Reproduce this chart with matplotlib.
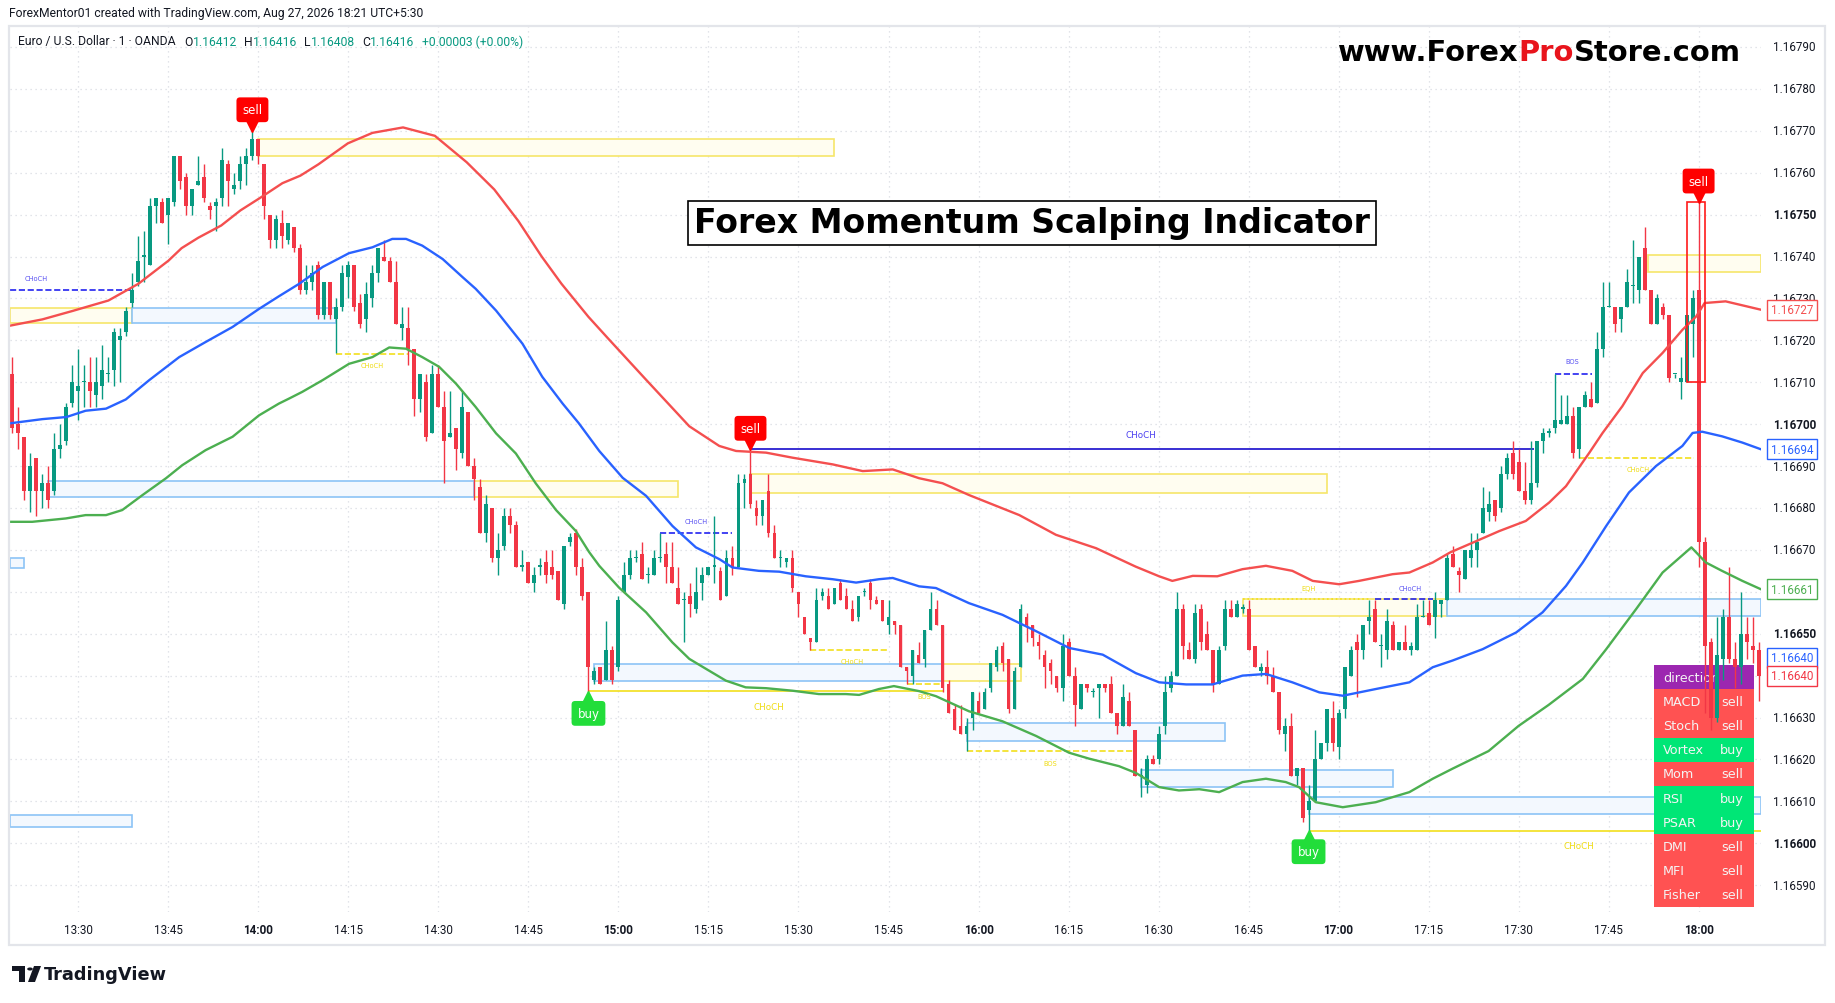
import numpy as np
import matplotlib
matplotlib.use("Agg")
import matplotlib.pyplot as plt
from matplotlib.patches import Rectangle, Polygon, Circle
from matplotlib.transforms import blended_transform_factory, offset_copy

# ── Data ─────────────────────────────────────────────────────────────────────
# EUR/USD, 1-minute candles from 13:19 to 18:10.
# Prices are in 0.00001 steps above 1.16000  (712 -> 1.16712)
BASE = 1.16
STEP = 1e-5
FIRST_BAR = "13:19"

opens = [
    712, 700, 697, 684, 692, 684, 686, 684, 694, 696,   # 13:19
    705, 708, 710, 710, 707, 709, 712, 713, 720, 722,   # 13:29
    729, 734, 740, 738, 752, 753, 750, 753, 764, 759,   # 13:39
    752, 757, 759, 752, 752, 754, 762, 756, 758, 762,   # 13:49
    764, 768, 762, 750, 744, 748, 744, 747, 742, 732,   # 13:59
    734, 738, 726, 734, 725, 728, 735, 738, 729, 725,   # 14:09
    730, 736, 740, 739, 734, 723, 723, 718, 706, 710,   # 14:19
    698, 712, 704, 697, 699, 693, 703, 690, 685, 674,   # 14:29
    680, 668, 671, 678, 676, 666, 667, 662, 666, 667,   # 14:39
    666, 665, 657, 672, 674, 666, 660, 639, 642, 639,   # 14:49
    646, 642, 660, 664, 668, 669, 664, 664, 668, 669,   # 14:59
    666, 661, 658, 659, 656, 662, 664, 666, 665, 659,   # 15:09
    668, 666, 686, 688, 680, 678, 684, 674, 668, 667,   # 15:19
    668, 660, 654, 649, 648, 659, 659, 657, 662, 659,   # 15:29
    656, 654, 660, 662, 658, 658, 652, 653, 652, 642,   # 15:39
    640, 645, 644, 651, 656, 652, 638, 632, 628, 626,   # 15:49
    630, 634, 632, 637, 642, 647, 644, 632, 642, 654,   # 15:59
    652, 648, 645, 643, 640, 637, 648, 640, 632, 638,   # 16:09
    636, 637, 638, 638, 631, 628, 634, 627, 616, 614,   # 16:19
    620, 620, 628, 637, 640, 656, 646, 644, 656, 650,   # 16:29
    646, 638, 647, 656, 654, 656, 656, 647, 641, 642,   # 16:39
    640, 636, 626, 628, 616, 618, 608, 610, 620, 624,   # 16:49
    630, 623, 632, 640, 648, 646, 653, 656, 647, 646,   # 16:59
    652, 646, 648, 646, 646, 654, 655, 654, 657, 658,   # 17:09
    669, 665, 663, 668, 670, 674, 679, 682, 680, 688,   # 17:19
    693, 691, 684, 682, 686, 696, 698, 699, 700, 700,   # 17:29
    702, 694, 704, 706, 705, 718, 728, 728, 725, 728,   # 17:39
    733, 732, 742, 732, 724, 728, 726, 712, 710, 710,   # 17:49
    724, 732, 672, 648, 630, 644, 654, 644, 642, 650,   # 17:59
    647, 646,                                           # 18:09
]
highs = [
    716, 704, 697, 693, 692, 688, 690, 698, 700, 705,
    714, 718, 714, 716, 716, 719, 716, 723, 723, 728,
    736, 745, 746, 754, 754, 754, 754, 764, 764, 760,
    756, 764, 762, 753, 754, 766, 763, 760, 764, 766,
    770, 768, 762, 750, 750, 751, 748, 747, 743, 738,
    738, 739, 734, 734, 730, 738, 739, 738, 731, 734,
    738, 742, 744, 740, 739, 728, 728, 718, 712, 712,
    714, 714, 708, 708, 699, 708, 703, 692, 687, 683,
    680, 674, 680, 680, 677, 670, 667, 666, 668, 670,
    670, 665, 671, 674, 675, 668, 660, 642, 642, 653,
    647, 659, 667, 670, 670, 672, 666, 670, 674, 672,
    672, 666, 660, 662, 666, 666, 666, 678, 666, 670,
    671, 688, 688, 694, 682, 682, 688, 676, 670, 668,
    670, 660, 654, 649, 661, 661, 661, 661, 663, 661,
    658, 659, 661, 663, 659, 658, 658, 653, 652, 642,
    646, 648, 651, 660, 658, 652, 639, 633, 633, 630,
    636, 636, 637, 643, 647, 648, 644, 642, 657, 655,
    652, 650, 646, 644, 640, 650, 649, 642, 638, 638,
    637, 638, 638, 640, 631, 638, 636, 627, 618, 621,
    621, 628, 640, 641, 660, 657, 648, 657, 657, 653,
    646, 647, 658, 658, 658, 657, 658, 647, 643, 646,
    642, 636, 630, 631, 618, 618, 614, 627, 624, 632,
    634, 632, 642, 647, 650, 652, 658, 658, 650, 656,
    653, 648, 652, 648, 657, 658, 658, 660, 658, 669,
    671, 666, 670, 674, 674, 685, 684, 682, 690, 693,
    696, 694, 691, 696, 696, 699, 699, 712, 707, 707,
    704, 704, 708, 710, 722, 734, 734, 728, 728, 737,
    744, 740, 747, 732, 731, 729, 726, 712, 716, 726,
    732, 753, 673, 649, 654, 656, 666, 648, 660, 654,
    654, 648,
]
lows = [
    698, 694, 682, 679, 678, 680, 680, 683, 692, 695,
    704, 701, 704, 704, 704, 706, 710, 709, 710, 721,
    728, 733, 734, 738, 748, 748, 743, 752, 756, 750,
    750, 757, 753, 749, 746, 752, 752, 755, 756, 757,
    763, 762, 749, 742, 742, 742, 743, 741, 731, 731,
    732, 725, 725, 725, 717, 727, 730, 727, 723, 722,
    728, 734, 739, 734, 724, 720, 714, 702, 703, 696,
    698, 704, 686, 697, 689, 692, 690, 682, 674, 672,
    667, 664, 670, 674, 666, 665, 662, 660, 664, 662,
    663, 658, 656, 671, 664, 658, 636, 638, 638, 639,
    638, 641, 660, 663, 667, 663, 662, 664, 667, 662,
    662, 657, 648, 654, 655, 658, 664, 662, 658, 659,
    664, 666, 680, 680, 676, 676, 673, 668, 666, 666,
    660, 654, 650, 646, 648, 658, 656, 657, 658, 656,
    653, 653, 659, 656, 657, 653, 650, 650, 642, 638,
    638, 643, 642, 651, 652, 636, 631, 627, 626, 622,
    627, 631, 632, 636, 641, 641, 631, 632, 642, 648,
    647, 644, 637, 638, 636, 634, 640, 628, 632, 636,
    635, 630, 636, 631, 626, 628, 628, 616, 611, 612,
    619, 619, 626, 636, 640, 644, 644, 643, 646, 646,
    636, 638, 646, 654, 654, 655, 646, 642, 640, 638,
    636, 626, 622, 616, 614, 605, 603, 610, 620, 622,
    622, 620, 630, 640, 635, 644, 650, 648, 642, 644,
    646, 646, 646, 645, 646, 654, 652, 649, 654, 658,
    666, 660, 663, 666, 666, 674, 677, 677, 679, 687,
    687, 684, 681, 681, 685, 693, 697, 698, 700, 700,
    692, 692, 704, 704, 705, 716, 728, 722, 722, 728,
    729, 729, 732, 724, 724, 725, 710, 711, 706, 710,
    716, 666, 631, 627, 629, 639, 643, 637, 638, 644,
    643, 634,
]
closes = [
    699, 698, 684, 690, 684, 686, 682, 694, 695, 704,
    710, 709, 710, 708, 710, 713, 712, 722, 721, 727,
    732, 739, 740, 752, 754, 748, 754, 764, 758, 752,
    756, 758, 754, 751, 753, 763, 758, 757, 762, 764,
    768, 764, 752, 744, 749, 745, 748, 742, 732, 734,
    736, 726, 734, 726, 728, 736, 738, 728, 724, 731,
    736, 742, 739, 734, 724, 724, 718, 706, 712, 697,
    712, 704, 696, 698, 694, 704, 690, 687, 674, 681,
    668, 670, 678, 676, 666, 666, 662, 664, 666, 664,
    664, 658, 671, 673, 666, 659, 642, 641, 638, 646,
    639, 658, 664, 668, 668, 663, 664, 668, 668, 666,
    662, 657, 658, 657, 660, 664, 666, 666, 658, 668,
    666, 686, 687, 681, 678, 682, 674, 668, 668, 668,
    661, 657, 650, 648, 658, 660, 656, 661, 658, 656,
    653, 659, 660, 658, 657, 653, 654, 652, 642, 641,
    646, 643, 651, 656, 652, 637, 631, 627, 626, 628,
    636, 631, 636, 643, 646, 643, 632, 641, 656, 652,
    649, 647, 642, 641, 637, 647, 640, 633, 638, 637,
    636, 638, 637, 631, 628, 635, 628, 616, 616, 620,
    619, 626, 636, 640, 656, 647, 644, 655, 648, 646,
    638, 646, 656, 654, 657, 656, 646, 642, 642, 640,
    636, 627, 628, 616, 618, 606, 610, 620, 624, 632,
    624, 631, 642, 646, 646, 652, 654, 648, 647, 653,
    646, 648, 646, 647, 654, 654, 652, 658, 658, 668,
    666, 664, 670, 670, 672, 680, 681, 678, 688, 692,
    688, 684, 682, 686, 696, 698, 698, 701, 701, 702,
    693, 704, 707, 704, 718, 728, 728, 724, 728, 734,
    733, 740, 732, 724, 730, 726, 711, 712, 711, 726,
    730, 672, 647, 630, 645, 654, 644, 642, 650, 648,
    646, 640,
]

# moving averages, sampled along the curves (minutes after 13:30, level)
ma_slow_min = [-11.4, -6, -1, 5, 10, 15, 17.2, 20, 23.8, 27, 30.4, 34, 37, 40,
               44.9, 49, 54.1, 59.4, 64.7, 69.3, 73.3, 77.2, 80.5, 85, 88.3,
               94.6, 101.8, 106.8, 109.6, 114.6, 119, 125.7, 130.7, 135.7,
               140.1, 144, 148.4, 154, 156.8, 162.9, 169.6, 176.2, 180.1,
               182.3, 185.7, 189.8, 194, 197.9, 202.3, 205.7, 210.1, 213.4,
               219, 221.8, 225.7, 228.6, 232, 236.8, 241.2, 245.1, 247.9,
               251.8, 254, 257.3, 260.7, 264, 267.3, 269.6, 271, 274.5, 280.4]
ma_slow = [723.5, 725, 727, 729.5, 733.5, 739, 742, 744.5, 747.4, 751, 754.1,
           757.5, 759.3, 762, 767, 769.5, 770.8, 768.8, 762.5, 756, 748.5,
           740, 733.5, 725.6, 720.4, 710.6, 699.5, 694.8, 693.6, 693.2, 692,
           690.4, 688.8, 689.2, 687.1, 685.9, 683.1, 679.9, 678.3, 673.6,
           670.4, 666, 663.7, 662.6, 663.8, 663.7, 665.4, 666.2, 665, 662.6,
           661.8, 662.6, 664.2, 664.6, 667, 669.4, 671.5, 674.5, 676.9, 681.3,
           685.2, 693.2, 697.9, 704.3, 712.2, 717, 722.5, 725.7, 728.9, 729.3,
           727.3]

ma_mid_min = [-11.4, -6, -2, 1.2, 4.6, 7.9, 11.8, 16.8, 21.2, 25.7, 30.1, 33.4,
              36.8, 40.7, 45.1, 49, 52.3, 54.6, 57.3, 60.7, 64, 66.2, 69.6, 74,
              77.3, 80.7, 83.4, 86.8, 90.7, 94.6, 99, 102.9, 106.8, 109, 113.4,
              116.8, 121.2, 125.7, 129.6, 133.4, 135.7, 140.1, 142.9, 148.4,
              154, 159.6, 165.1, 170.7, 176.2, 180.1, 184.6, 189, 194, 197.9,
              202.3, 206.8, 210.7, 216.2, 221.8, 225.7, 229, 234, 239.6, 244,
              247.9, 250.7, 254.6, 258.4, 262.9, 267.3, 269, 270.6, 273.9,
              277.3, 280.4]
ma_mid = [700.2, 701.2, 701.7, 703.2, 703.7, 705.9, 710.5, 716, 719.6, 723.2,
          727.5, 730.5, 733.5, 737.5, 740.8, 742.2, 744.2, 744.2, 742.6, 739.4,
          735.1, 732.3, 727.1, 719.2, 711.3, 704.9, 700.2, 693.6, 687.2, 682.9,
          675.7, 670.6, 667.8, 665.8, 665, 664.8, 663.7, 663, 662.2, 663, 663.3,
          661.3, 660.9, 657.3, 654.5, 650.6, 646.6, 645, 640.6, 638.4, 637.9,
          637.9, 640, 640.4, 638.4, 636, 635.2, 636.8, 638.4, 642, 643.6, 646.3,
          650.3, 655.1, 661.4, 667, 675.7, 683.7, 690, 694.8, 697.9, 698.2,
          697.1, 695.6, 694]

ma_fast_min = [-11.4, -7.7, -2.1, 1.2, 4.6, 7.3, 10.7, 14.6, 17.3, 21.2, 25.7,
               30.1, 33.4, 35.1, 37.3, 40.7, 45.1, 49, 51.8, 54.6, 57.3, 60.1,
               62.9, 66.2, 69.6, 72.9, 76.2, 79.6, 82.9, 85.1, 86.8, 90.1, 94.6,
               99, 101.8, 104.6, 107.9, 111.2, 114.6, 119, 123.4, 127.9, 130.1,
               133.4, 135.9, 140.1, 142.9, 148.4, 154, 159.6, 165.1, 168.4,
               173.4, 176.2, 180.1, 183.4, 186.8, 190.1, 194, 197.9, 201.2,
               203.4, 206.2, 210.7, 216.2, 221.8, 225.7, 229, 235, 240, 245,
               250.7, 254.6, 259.6, 264, 268.8, 271.2, 273.9, 277.3, 280.4]
ma_fast = [676.7, 676.7, 677.5, 678.3, 678.3, 679.5, 683.1, 687.1, 690.2, 693.8,
           697, 702.1, 704.9, 706.1, 707.7, 710.5, 714.4, 716, 718.3, 718, 716,
           713.7, 709.7, 704.1, 697.8, 693, 685.9, 679.5, 674.5, 669.5, 666.2,
           661, 655.1, 647.9, 644, 641.6, 638.8, 637.2, 637, 636.4, 635.6,
           635.6, 635.4, 636.8, 637.5, 636.3, 635.1, 631.5, 629.1, 625.6, 621.6,
           620.2, 618.4, 616.8, 613.4, 612.6, 612.9, 612.2, 614.6, 615.4, 614.6,
           613.4, 609.8, 608.6, 609.8, 612.2, 615.4, 617.8, 622, 628, 633, 639.2,
           646.3, 655.9, 664.6, 670.6, 667, 665, 662.6, 660.6]

# supply (yellow) and demand (blue) zones: start, end, low, high
supply_zones = [
    ("13:18.6", "13:39", 724.2, 727.6),
    ("14:00", "15:36", 764, 768),
    ("14:36", "15:10", 682.7, 686.5),
    ("15:22", "16:58", 683.6, 688),
    ("15:54", "16:07", 638.6, 642.7),
    ("16:44", "17:18", 654.3, 658.3),
    ("17:51.5", "edge", 736.3, 740.4),
    ("18:01", "18:04.5", 654.3, 658.3),
]
demand_zones = [
    ("13:39", "14:13", 724.2, 727.7),
    ("13:25", "14:36", 682.5, 686.4),
    ("13:18.6", "13:21", 665.7, 668),
    ("13:18.6", "13:39", 604, 606.8),
    ("14:56", "15:54", 638.7, 642.8),
    ("15:58", "16:41", 624.4, 628.6),
    ("16:27", "17:09", 613.4, 617.4),
    ("16:55", "edge", 607.1, 611),
    ("17:18", "edge", 654.3, 658.4),
]

# structure breaks: start, end, level, colour, style, label, label time, label level, size
structure = [
    ("13:18.6", "13:39", 732, "b", "--", "CHoCH", "13:23", 734.9, "s"),
    ("14:13", "14:25", 716.8, "y", "--", "CHoCH", "14:19", 714.2, "s"),
    ("15:07", "15:19", 674.1, "b", "--", "CHoCH", "15:13", 677, "s"),
    ("15:22", "17:32.5", 694, "B", "-", "CHoCH", "16:27", 697.6, "m"),
    ("14:55", "15:54", 636.3, "y", "-", "CHoCH", "15:25", 632.6, "m"),
    ("15:32", "15:45", 646.1, "y", "--", "CHoCH", "15:39", 643.4, "s"),
    ("15:48", "15:53.5", 638, "y", "--", "BOS", "15:51", 635.2, "s"),
    ("15:58", "16:25.7", 622.1, "y", "--", "BOS", "16:12", 619.2, "s"),
    ("16:44", "17:05", 658.3, "y", ":", "EQH", "16:55", 661, "s"),
    ("17:06", "17:15.7", 658.3, "b", "--", "CHoCH", "17:12", 661, "s"),
    ("16:55", "edge", 603, "y", "-", "CHoCH", "17:40", 599.4, "m"),
    ("17:36", "17:42.3", 712, "b", "--", "BOS", "17:39", 715, "s"),
    ("17:40", "17:59.3", 692, "y", "--", "CHoCH", "17:50", 689.4, "s"),
]

signal_times = ["13:59", "15:22", "18:00", "14:55", "16:55"]
signal_kinds = ["sell", "sell", "sell", "buy", "buy"]
outline_box = ("17:58", "18:01", 710.1, 753)

table_names = ["direction", "MACD", "Stoch", "Vortex", "Mom", "RSI", "PSAR",
               "DMI", "MFI", "Fisher"]
table_values = ["", "sell", "sell", "buy", "sell", "buy", "buy", "sell",
                "sell", "sell"]

price_levels = [590, 600, 610, 620, 630, 640, 650, 660, 670, 680, 690, 700,
                710, 720, 730, 740, 750, 760, 770, 780, 790]
time_ticks = ["13:30", "13:45", "14:00", "14:15", "14:30", "14:45", "15:00",
              "15:15", "15:30", "15:45", "16:00", "16:15", "16:30", "16:45",
              "17:00", "17:15", "17:30", "17:45", "18:00"]

# ── Layout / style ───────────────────────────────────────────────────────────
W, H = 1835, 1004
X_LEFT, X_RIGHT = -11.4, 280.4
UP, DOWN = "#089981", "#f23645"
YEL_EDGE, YEL_FILL = "#f6e66a", "#fffdf0"
BLU_EDGE, BLU_FILL = "#8cc4f6", "#f3f8fe"
LINE_COL = {"b": "#2222f0", "B": "#2a1fd0", "y": "#f2df1c"}
LABEL_COL = {"b": "#5a52f2", "B": "#4b3ff0", "y": "#efdc12"}


def tmin(s):
    if s == "edge":
        return X_RIGHT
    h, m = s.split(":")
    return int(h) * 60 + float(m) - (13 * 60 + 30)


def price(v):
    return BASE + np.asarray(v, dtype=float) * STEP


def fx(x):
    return x / W


def fy(y):
    return 1 - y / H


fig = plt.figure(figsize=(W / 100, H / 100), dpi=100, facecolor="white")
ax = fig.add_axes([fx(10), fy(913), (1761 - 10) / W, (913 - 27) / H])
ax.set_xlim(X_LEFT, X_RIGHT)
ax.set_ylim(price(583.6), price(795))
ax.set_xticks([])
ax.set_yticks([])
for sp in ax.spines.values():
    sp.set_visible(False)

# frame of the chart pane
fig.add_artist(Rectangle((fx(9), fy(946)), (1825 - 9) / W, (946 - 27) / H,
                         transform=fig.transFigure, fill=False,
                         ec="#e3e5ea", lw=1.6))

# grid
for lv in price_levels:
    ax.axhline(price(lv), color="#d9dce2", lw=0.9, ls=(0, (1, 3)), zorder=0)
for t in time_ticks:
    ax.axvline(tmin(t), color="#d9dce2", lw=0.9, ls=(0, (1, 3)), zorder=0)

# zones
for zones, ec, fc in ((supply_zones, YEL_EDGE, YEL_FILL),
                      (demand_zones, BLU_EDGE, BLU_FILL)):
    for t0, t1, lo, hi in zones:
        x0, x1 = tmin(t0), tmin(t1)
        ax.add_patch(Rectangle((x0, price(lo)), x1 - x0, price(hi) - price(lo),
                               fc=fc, ec=ec, lw=1.2, zorder=1))

# structure lines + labels
for t0, t1, lv, c, ls, lab, lt, ll, sz in structure:
    ax.hlines(price(lv), tmin(t0), tmin(t1), colors=LINE_COL[c],
              linestyles=ls, lw=1.2 if c != "B" else 1.3, zorder=2)
    ax.text(tmin(lt), price(ll), lab, color=LABEL_COL[c], ha="center",
            va="center", fontsize=4.8 if sz == "s" else 6.3, zorder=7)

# signal table (drawn under the candles)
ROW_H = 24.2
for i, (name, val) in enumerate(zip(table_names, table_values)):
    if i == 0:
        bg = "#9c27b0"
    elif val == "buy":
        bg = "#00e676"
    else:
        bg = "#ff5252"
    top = 666 + i * ROW_H
    ax.add_patch(Rectangle((fx(1654), fy(top + ROW_H)), 100 / W, ROW_H / H,
                           transform=fig.transFigure, fc=bg, ec="none",
                           zorder=3, clip_on=False))
    ax.text(fx(1663), fy(top + ROW_H / 2), name, transform=fig.transFigure,
            color="#f4f4f4", fontsize=9.2, ha="left", va="center", zorder=3.2)
    if val:
        ax.text(fx(1732), fy(top + ROW_H / 2), val, transform=fig.transFigure,
                color="#f4f4f4", fontsize=9.2, ha="center", va="center",
                zorder=3.2)

# candles
x = np.arange(len(opens)) + tmin(FIRST_BAR)
o, h, l, c = price(opens), price(highs), price(lows), price(closes)
cols = np.where(c >= o, UP, DOWN)
ax.vlines(x, l, h, colors=cols, lw=1.0, zorder=4)
body = np.maximum(np.abs(c - o), 0.3 * STEP)
ax.bar(x, body, width=0.66, bottom=np.minimum(o, c), color=cols, lw=0,
       zorder=5)

# moving averages
ax.plot(ma_slow_min, price(ma_slow), color="#f44f4f", lw=1.7, zorder=6)
ax.plot(ma_mid_min, price(ma_mid), color="#2962ff", lw=1.7, zorder=6)
ax.plot(ma_fast_min, price(ma_fast), color="#4caf50", lw=1.7, zorder=6)

# red outline round the last signal
t0, t1, lo, hi = outline_box
ax.add_patch(Rectangle((tmin(t0), price(lo)), tmin(t1) - tmin(t0),
                       price(hi) - price(lo), fill=False, ec="#ff1a1a",
                       lw=1.2, zorder=6))

# buy / sell flags
for t, kind in zip(signal_times, signal_kinds):
    i = int(round(tmin(t) - tmin(FIRST_BAR)))
    xi = x[i]
    if kind == "sell":
        tip, fc, sgn, mk = h[i], "#ff0000", 1, "v"
    else:
        tip, fc, sgn, mk = l[i], "#22dd3a", -1, "^"
    tr_tri = offset_copy(ax.transData, fig=fig, x=0, y=sgn * 5, units="dots")
    ax.plot([xi], [tip], marker=mk, ms=8, color=fc, mec=fc, transform=tr_tri,
            zorder=9, clip_on=False)
    tr_box = offset_copy(ax.transData, fig=fig, x=0, y=sgn * 21, units="dots")
    ax.text(xi, tip, kind, transform=tr_box, ha="center", va="center",
            color="white", fontsize=8.5, zorder=10,
            bbox=dict(boxstyle="round,pad=0.5,rounding_size=0.3", fc=fc,
                      ec="none"))

# price scale
ytr = blended_transform_factory(ax.transAxes, ax.transData)
for lv in price_levels:
    bold = lv % 50 == 0
    ax.text(1.0069, price(lv), f"{price(lv):.5f}", transform=ytr, ha="left",
            va="center", fontsize=8.4, family="Roboto", color="#131722",
            fontweight="bold" if bold else "normal", clip_on=False)

last_tags = [
    (ma_slow[-1], "#f44f4f", ma_slow[-1]),
    (ma_mid[-1], "#2962ff", ma_mid[-1]),
    (ma_fast[-1], "#4caf50", ma_fast[-1]),
    (640, "#2962ff", 644.3),
    (closes[-1], "#f23645", closes[-1]),
]
for val, col, ypos in last_tags:
    ax.text(1.0056, price(ypos), f"{price(round(val)):.5f}", transform=ytr,
            ha="left", va="center", fontsize=8.4, family="Roboto", color=col,
            clip_on=False, zorder=10,
            bbox=dict(boxstyle="square,pad=0.3", fc="white", ec=col, lw=1.0))

# time scale
xtr = blended_transform_factory(ax.transData, ax.transAxes)
for t in time_ticks:
    bold = t.endswith(":00")
    ax.text(tmin(t), -0.0192, t, transform=xtr, ha="center", va="center",
            fontsize=8.4, family="Roboto", color="#131722",
            fontweight="bold" if bold else "normal", clip_on=False)

# ── Texts around the chart ───────────────────────────────────────────────────
renderer = fig.canvas.get_renderer()


def text_run(x_px, y_px, parts, **kw):
    for s, col, gap in parts:
        t = fig.text(fx(x_px), fy(y_px), s, color=col, ha="left", va="center",
                     **kw)
        x_px += t.get_window_extent(renderer).width + gap
    return x_px


fig.text(fx(9), fy(14), "ForexMentor01 created with TradingView.com, "
         "Aug 27, 2026 18:21 UTC+5:30", ha="left", va="center",
         fontsize=8.7, family="Roboto", color="#131722")

text_run(18, 42, [("Euro / U.S. Dollar · 1 · OANDA", "#131722", 9),
                  ("O", "#131722", 0), ("1.16412", UP, 7),
                  ("H", "#131722", 0), ("1.16416", UP, 7),
                  ("L", "#131722", 0), ("1.16408", UP, 7),
                  ("C", "#131722", 0), ("1.16416", UP, 8),
                  ("+0.00003 (+0.00%)", UP, 0)],
         fontsize=8.7, family="Roboto")

text_run(1338, 53, [("www.Forex", "#000000", 0), ("Pro", "#e8141c", 0),
                    ("Store.com", "#000000", 0)],
         fontsize=20.9, fontweight="bold", family="DejaVu Sans")

fig.text(fx(1032), fy(224), "Forex Momentum Scalping Indicator", ha="center",
         va="center", fontsize=23.9, fontweight="bold", color="#000000",
         bbox=dict(boxstyle="square,pad=0.17", fc="white", ec="#000000",
                   lw=1.2))

# TradingView logo
logo = "#131722"
fig.add_artist(Rectangle((fx(12), fy(972)), 13 / W, 5 / H,
                         transform=fig.transFigure, fc=logo, ec="none"))
fig.add_artist(Rectangle((fx(19), fy(983)), 6 / W, 16 / H,
                         transform=fig.transFigure, fc=logo, ec="none"))
fig.add_artist(Circle((fx(30), fy(970)), 2.8 / W, transform=fig.transFigure,
                      fc=logo, ec="none"))
fig.add_artist(Polygon([(fx(34), fy(967)), (fx(41), fy(967)),
                        (fx(35), fy(983)), (fx(28), fy(983))],
                       closed=True, transform=fig.transFigure, fc=logo,
                       ec="none"))
fig.text(fx(44), fy(975), "TradingView", ha="left", va="center",
         fontsize=12.8, fontweight="bold", color=logo)

fig.savefig("out.png", dpi=100, facecolor="white")
